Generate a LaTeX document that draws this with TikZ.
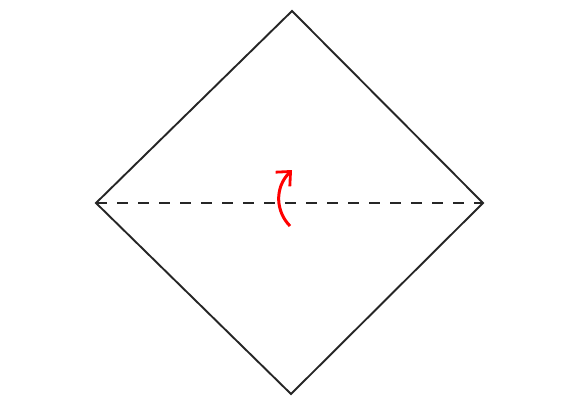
\documentclass[tikz,border=0pt]{standalone}
\usetikzlibrary{arrows.meta}
\begin{document}
\begin{tikzpicture}[x=1pt,y=-1pt,
  edge/.style={line width=1.9pt,draw=black!85},
  fold/.style={line width=1.6pt,draw=black!85,dash pattern=on 11pt off 10pt},
  turn/.style={line width=3pt,draw=red,-{Straight Barb[length=11pt,width=20pt,line width=2.8pt]}}]
\useasboundingbox (0,0) rectangle (580,406);
\coordinate (T) at (292,11);
\coordinate (L) at (96,203);
\coordinate (R) at (483,203);
\coordinate (B) at (291,394);
\draw[edge] (T) -- (R) -- (B) -- (L) -- cycle;
\draw[fold] (L) -- (R);
\coordinate (s) at (290,226);
\coordinate (e) at (292,170);
\draw[turn] (s) .. controls (276,212) and (274,188) .. (e);
\end{tikzpicture}
\end{document}
